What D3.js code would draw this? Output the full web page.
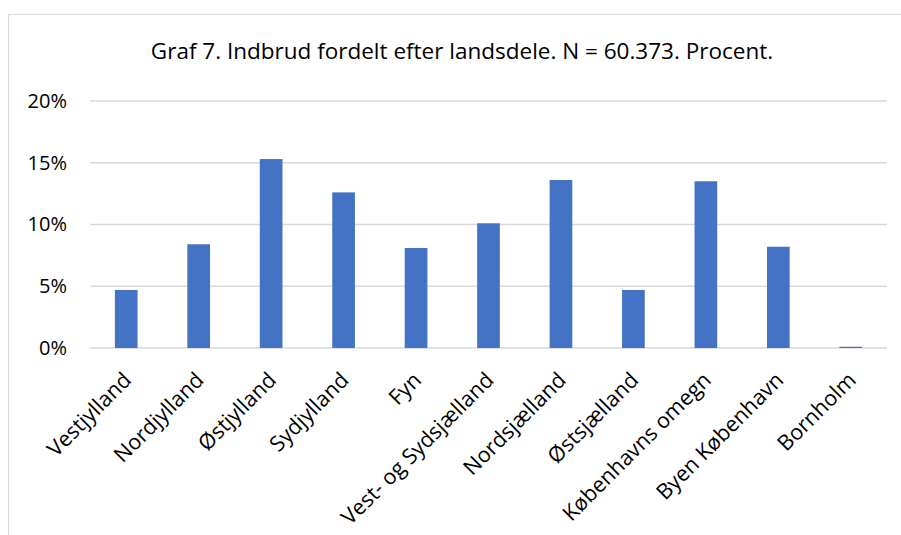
<!DOCTYPE html>
<html>
<head>
<meta charset="utf-8">
<script src="https://cdn.jsdelivr.net/npm/d3@7"></script>
<style>
	body {margin: 0; background: #fff;}
	text {font-family: "Open Sans", "Noto Sans", sans-serif; fill: #000;}
</style>
</head>
<body>
<div id="vis"></div>
<script>
// data
const CATEGORIES = ["Vestjylland", "Nordjylland", "Østjylland", "Sydjylland", "Fyn",
	"Vest- og Sydsjælland", "Nordsjælland", "Østsjælland", "Københavns omegn",
	"Byen København", "Bornholm"];
const VALUES = [4.7, 8.4, 15.3, 12.6, 8.1, 10.1, 13.6, 4.7, 13.5, 8.2, 0.1];
const Y_TICKS = [0, 5, 10, 15, 20];
const TITLE = "Graf 7. Indbrud fordelt efter landsdele. N = 60.373. Procent.";

// frame
const FRAME_WIDTH = 901;
const FRAME_HEIGHT = 535;
const MARGINS = {left: 90, right: 14, top: 101, bottom: 187};

const VIS_WIDTH = FRAME_WIDTH - MARGINS.left - MARGINS.right;
const VIS_HEIGHT = FRAME_HEIGHT - MARGINS.top - MARGINS.bottom;

const FRAME =
d3.select("#vis")
	.append("svg")
		.attr("width", FRAME_WIDTH)
		.attr("height", FRAME_HEIGHT);

// chart border
FRAME.append("rect")
		.attr("x", 8.5)
		.attr("y", 14.5)
		.attr("width", FRAME_WIDTH + 20)
		.attr("height", FRAME_HEIGHT + 20)
		.style("fill", "none")
		.style("stroke", "#d9d9d9")
		.style("stroke-width", 1);

// scales
const X_SCALE = d3.scaleBand()
					.domain(CATEGORIES)
					.range([0, VIS_WIDTH])
					.paddingInner(0.687)
					.paddingOuter(0.3435);
const Y_SCALE = d3.scaleLinear()
					.domain([0, 20])
					.range([VIS_HEIGHT, 0]);

const G = FRAME.append("g")
		.attr("transform", "translate(" + MARGINS.left + "," + MARGINS.top + ")");

// gridlines
G.selectAll(".grid")
		.data(Y_TICKS)
		.enter()
		.append("line")
			.attr("x1", 0)
			.attr("x2", VIS_WIDTH)
			.attr("y1", (d) => Y_SCALE(d))
			.attr("y2", (d) => Y_SCALE(d))
			.style("stroke", "#d9d9d9")
			.style("stroke-width", 1.5);

// bars
G.selectAll(".bar")
		.data(VALUES)
		.enter()
		.append("rect")
			.attr("class", "bar")
			.attr("x", (d, i) => X_SCALE(CATEGORIES[i]))
			.attr("y", (d) => Y_SCALE(d))
			.attr("width", X_SCALE.bandwidth())
			.attr("height", (d) => VIS_HEIGHT - Y_SCALE(d))
			.style("fill", "#4472c4");

// y axis
const Y_AXIS = G.append("g")
		.call(d3.axisLeft(Y_SCALE).tickValues(Y_TICKS).tickFormat((d) => d + "%").tickSize(0).tickPadding(23));
Y_AXIS.select(".domain").remove();
Y_AXIS.selectAll("text")
		.style("font-size", "20px")
		.attr("font-family", null);

// x axis
const X_AXIS = G.append("g")
		.attr("transform", "translate(0," + VIS_HEIGHT + ")")
		.call(d3.axisBottom(X_SCALE).tickSize(0));
X_AXIS.select(".domain").remove();
X_AXIS.selectAll("text")
		.style("font-size", "21.5px")
		.attr("font-family", null)
		.attr("text-anchor", "end")
		.attr("dy", "0.35em")
		.attr("transform", "translate(-1,26) rotate(-45)");

// title
FRAME.append("text")
		.attr("x", 462)
		.attr("y", 59)
		.attr("text-anchor", "middle")
		.style("font-size", "22.5px")
		.text(TITLE);
</script>
</body>
</html>
